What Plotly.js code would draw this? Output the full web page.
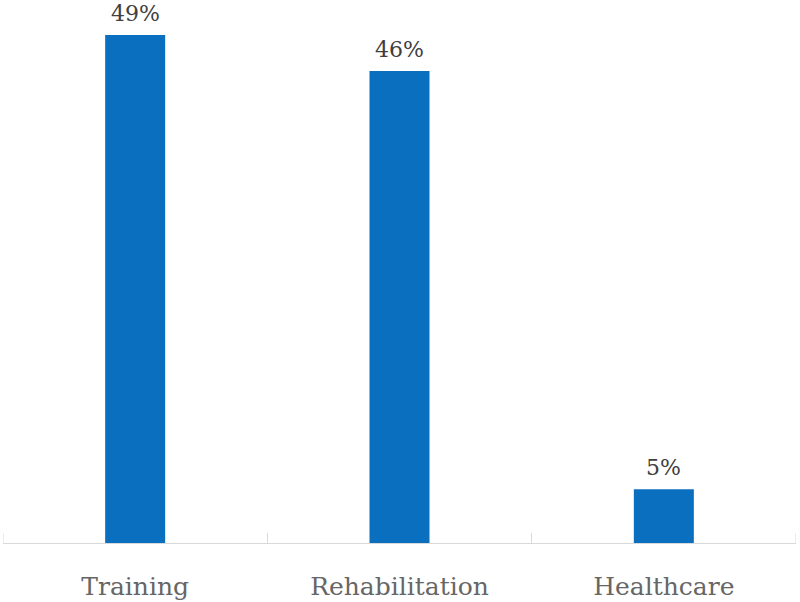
<!DOCTYPE html>
<html>
<head>
<meta charset="utf-8">
<script src="https://cdn.plot.ly/plotly-3.0.1.min.js"></script>
<style>html,body{margin:0;padding:0;background:#fff;}#chart{width:800px;height:602px;}</style>
</head>
<body>
<div id="chart"></div>
<script>
const categories = ["Training", "Rehabilitation", "Healthcare"];
const values = [49.14, 45.66, 5.2];
const valueLabels = ["49%", "46%", "5%"];

const trace = {
  type: "bar",
  x: categories,
  y: values,
  marker: {color: "#0b6fc0"},
  hoverinfo: "x+y"
};

const annotations = categories.map((c, i) => ({
  x: c, y: values[i], xref: "x", yref: "y",
  text: valueLabels[i], showarrow: false,
  yanchor: "bottom", yshift: 7,
  font: {family: "DejaVu Serif, serif", size: 22, color: "#404040"}
}));

const edgeTicks = [-0.5, categories.length - 0.5].map(xv => ({
  type: "line", xref: "x", yref: "y",
  x0: xv, x1: xv, y0: 0, y1: 10,
  ysizemode: "pixel", yanchor: 0,
  line: {color: "#d9d9d9", width: 1}
}));

const layout = {
  width: 800, height: 602,
  margin: {l: 3, r: 4, t: 35, b: 59},
  paper_bgcolor: "#ffffff", plot_bgcolor: "#ffffff",
  bargap: 0.773,
  showlegend: false,
  xaxis: {
    type: "category",
    range: [-0.5, categories.length - 0.5],
    showline: true, linecolor: "#d9d9d9", linewidth: 1,
    ticks: "inside", ticklen: 10, tickcolor: "#d9d9d9", tickwidth: 1,
    tickson: "boundaries",
    showgrid: false, zeroline: false,
    ticklabelstandoff: 21,
    tickfont: {family: "DejaVu Serif, serif", size: 25, color: "#666666"}
  },
  yaxis: {
    range: [0, Math.max(...values)],
    visible: false, showgrid: false, zeroline: false
  },
  shapes: edgeTicks,
  annotations: annotations
};

Plotly.newPlot("chart", [trace], layout, {displayModeBar: false, staticPlot: true});
</script>
</body>
</html>
